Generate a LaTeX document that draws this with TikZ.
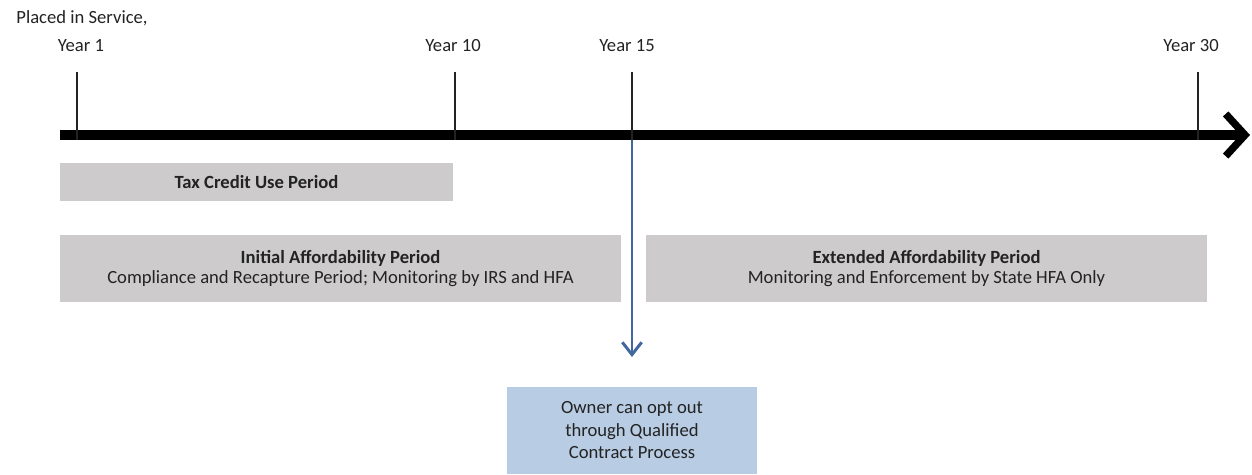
\documentclass[tikz,border=0pt]{standalone}
\usepackage{fontspec}
\setmainfont{Carlito}
\usetikzlibrary{arrows.meta}
\definecolor{boxgray}{RGB}{205,203,203}
\definecolor{optblue}{RGB}{184,204,228}
\definecolor{arrowblue}{RGB}{65,105,160}
\definecolor{textgray}{RGB}{35,35,35}

\begin{document}
\begin{tikzpicture}[x=0.02cm, y=-0.02cm,
  every node/.style={font=\fontsize{10.6}{11.6}\selectfont, text=textgray},
  tick/.style={line width=1.1pt, draw=textgray},
  year label/.style={inner sep=0pt},
  period box/.style={fill=boxgray, align=center, inner sep=0pt, minimum height=1.34cm, minimum width=11.22cm},
  opt box/.style={fill=optblue, align=center, inner sep=0pt, minimum width=5cm, minimum height=1.74cm,
    font=\fontsize{10.6}{12.8}\selectfont}]
  \useasboundingbox (0,0) rectangle (1252,474);

  % time axis
  \coordinate (start) at (60,135);
  \coordinate (end) at (1250,135);
  \draw[line width=5.7pt, -{Straight Barb[length=11pt, width=24pt, line width=4.2pt]}] (start) -- (end);

  % ticks
  \coordinate (t1) at (77,72);   \coordinate (b1) at (77,140);
  \coordinate (t10) at (455,72); \coordinate (b10) at (455,140);
  \coordinate (t15) at (632,72); \coordinate (b15) at (632,140);
  \coordinate (t30) at (1198,72); \coordinate (b30) at (1198,140);
  \draw[tick] (t1) -- (b1);
  \draw[tick] (t10) -- (b10);
  \draw[tick] (t15) -- (b15);
  \draw[tick] (t30) -- (b30);

  % year labels
  \node[year label] (placed) at (82,18) {Placed in Service,};
  \node[year label] (y1) at (81,46) {Year 1};
  \node[year label] (y10) at (453,46) {Year 10};
  \node[year label] (y15) at (627,46) {Year 15};
  \node[year label] (y30) at (1191,46) {Year 30};

  % periods
  \node[period box, minimum width=7.86cm, minimum height=0.76cm] (credit) at (256.5,182) {\textbf{Tax Credit Use Period}};
  \node[period box] (initial) at (340.5,268.5) {\textbf{Initial Affordability Period}\\Compliance and Recapture Period; Monitoring by IRS and HFA};
  \node[period box] (extended) at (926.5,268.5) {\textbf{Extended Affordability Period}\\Monitoring and Enforcement by State HFA Only};

  % opt out
  \node[opt box] (optout) at (632,430.5) {Owner can opt out\\through Qualified\\Contract Process};
  \coordinate (drop) at (632,357);
  \draw[line width=1.7pt, draw=arrowblue, -{Straight Barb[length=7pt, width=11pt]}] (b15) -- (drop);
\end{tikzpicture}
\end{document}
